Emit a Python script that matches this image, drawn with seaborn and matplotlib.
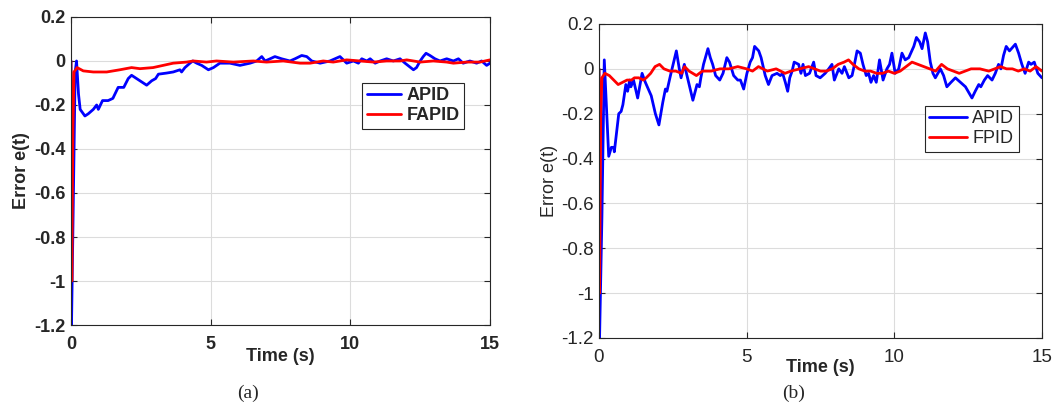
import numpy as np
import matplotlib
matplotlib.use("Agg")
import matplotlib.pyplot as plt
import seaborn as sns
from matplotlib.ticker import FuncFormatter

# ---- panel (a) data ----
t_a_apid = [0.0, 0.02, 0.1, 0.15, 0.2, 0.27, 0.33, 0.5, 0.62, 0.8, 0.92, 0.98, 1.13, 1.33, 1.5,
            1.69, 1.89, 2.05, 2.17, 2.35, 2.59, 2.71, 2.89, 3.03, 3.13, 3.42, 3.66, 3.9, 3.96, 4.08,
            4.26, 4.36, 4.5, 4.68, 4.92, 5.1, 5.33, 5.69, 6.05, 6.41, 6.65, 6.83, 6.95, 7.13, 7.3,
            7.54, 7.84, 8.02, 8.26, 8.44, 8.62, 8.92, 9.27, 9.63, 9.87, 10.11, 10.29, 10.41, 10.59,
            10.71, 10.89, 11.07, 11.3, 11.54, 11.78, 11.96, 12.26, 12.37, 12.5, 12.61, 12.71, 12.85,
            13.03, 13.21, 13.45, 13.69, 13.87, 14.04, 14.28, 14.52, 14.7, 14.88, 15.0]
e_a_apid = [0.0, -1.2, -0.5, -0.05, 0.0, -0.15, -0.22, -0.25, -0.24, -0.22, -0.2, -0.22, -0.18, -0.18, -0.17,
            -0.12, -0.12, -0.08, -0.065, -0.08, -0.1, -0.11, -0.09, -0.08, -0.06, -0.055, -0.05, -0.04, -0.05, -0.03,
            -0.01, 0.0, -0.01, -0.02, -0.04, -0.03, -0.01, -0.01, -0.02, -0.01, 0.0, 0.02, 0.0, 0.01, 0.02,
            0.01, 0.0, 0.01, 0.025, 0.02, 0.0, -0.01, 0.0, 0.02, -0.01, 0.0, -0.01, 0.01, 0.0,
            0.01, -0.01, 0.0, 0.01, 0.0, 0.01, -0.01, -0.04, -0.03, 0.0, 0.02, 0.035, 0.025,
            0.01, 0.0, 0.01, 0.0, 0.01, -0.01, 0.0, -0.01, 0.0, -0.02, -0.01]

t_a_fapid = [0.0, 0.03, 0.07, 0.11, 0.22, 0.44, 0.8, 1.28, 1.75, 2.17, 2.47, 2.94, 3.3, 3.66, 4.14,
             4.38, 4.85, 5.21, 5.81, 6.53, 7.0, 7.6, 8.2, 8.56, 9.03, 9.39, 9.87, 10.35, 10.83, 11.3,
             11.78, 12.02, 12.5, 12.97, 13.45, 13.69, 14.16, 14.64, 15.0]
e_a_fapid = [0.0, -1.0, -0.3, -0.05, -0.03, -0.045, -0.05, -0.05, -0.04, -0.03, -0.035, -0.03, -0.02, -0.01, -0.005,
             0.0, -0.005, 0.0, -0.005, 0.0, -0.005, 0.0, -0.01, -0.01, 0.0, -0.005, 0.005, 0.0, -0.005, 0.0,
             0.0, 0.005, -0.005, 0.0, -0.005, -0.01, -0.005, -0.005, 0.005]

# ---- panel (b) data ----
t_b_apid = [0.0, 0.02, 0.1, 0.18, 0.33, 0.42, 0.5, 0.52, 0.67, 0.75, 0.81, 0.91, 0.97, 1.04, 1.08,
            1.17, 1.31, 1.46, 1.57, 1.77, 1.91, 2.03, 2.16, 2.25, 2.3, 2.42, 2.51, 2.62, 2.72, 2.78,
            2.89, 3.07, 3.18, 3.32, 3.4, 3.45, 3.54, 3.69, 3.77, 3.85, 3.95, 4.09, 4.2, 4.33, 4.42,
            4.56, 4.7, 4.79, 4.9, 5.01, 5.12, 5.2, 5.27, 5.41, 5.49, 5.63, 5.74, 5.86, 6.03, 6.14,
            6.22, 6.31, 6.39, 6.46, 6.54, 6.61, 6.76, 6.84, 6.91, 6.99, 7.13, 7.27, 7.35, 7.49, 7.66,
            7.78, 7.89, 7.97, 8.12, 8.23, 8.31, 8.46, 8.57, 8.62, 8.74, 8.85, 8.94, 9.05, 9.13, 9.21,
            9.3, 9.39, 9.5, 9.62, 9.75, 9.84, 9.92, 10.03, 10.15, 10.26, 10.37, 10.49, 10.66, 10.75,
            10.86, 10.94, 11.05, 11.13, 11.22, 11.31, 11.39, 11.56, 11.67, 11.78, 11.92, 12.07, 12.24,
            12.41, 12.63, 12.74, 12.86, 12.93, 13.05, 13.16, 13.31, 13.42, 13.53, 13.61, 13.7, 13.79,
            13.9, 14.1, 14.21, 14.32, 14.43, 14.55, 14.63, 14.74, 14.86, 15.0]
e_b_apid = [0.0, -1.2, -0.66, 0.04, -0.39, -0.35, -0.35, -0.37, -0.2, -0.19, -0.16, -0.07, -0.1, -0.05, -0.08,
            -0.05, -0.13, -0.02, -0.06, -0.12, -0.2, -0.25, -0.15, -0.09, -0.1, -0.03, 0.02, 0.08, 0.0, -0.04,
            0.02, -0.08, -0.14, -0.07, -0.08, -0.04, 0.02, 0.09, 0.05, 0.02, -0.03, -0.05, -0.02, 0.05, 0.03,
            -0.03, -0.05, -0.05, -0.09, -0.02, 0.03, 0.05, 0.1, 0.08, 0.05, -0.03, -0.07, -0.03, -0.02, -0.03,
            -0.02, -0.06, -0.1, -0.04, -0.01, 0.03, 0.02, -0.02, 0.02, -0.03, -0.02, 0.03, -0.03, -0.04, -0.02,
            0.0, 0.02, -0.05, 0.0, -0.02, 0.01, -0.04, -0.03, 0.0, 0.08, 0.07, 0.02, -0.03, -0.02, -0.06,
            -0.03, -0.06, 0.04, -0.05, 0.0, 0.02, 0.07, -0.02, 0.0, 0.07, 0.04, 0.05, 0.1, 0.14,
            0.12, 0.09, 0.16, 0.12, 0.03, -0.02, -0.04, 0.0, -0.03, -0.08, -0.06, -0.04, -0.06,
            -0.08, -0.13, -0.1, -0.07, -0.08, -0.05, -0.03, -0.05, -0.02, 0.02, 0.0, 0.06, 0.1,
            0.08, 0.11, 0.07, 0.02, -0.02, 0.03, 0.02, 0.03, -0.02, -0.04]

t_b_fpid = [0.0, 0.02, 0.06, 0.1, 0.2, 0.35, 0.5, 0.65, 0.8, 0.95, 1.1, 1.2, 1.35, 1.5, 1.6,
            1.75, 1.9, 2.05, 2.2, 2.4, 2.6, 2.8, 2.9, 3.05, 3.3, 3.5, 3.8, 4.1, 4.4, 4.7,
            5.0, 5.2, 5.4, 5.7, 6.0, 6.3, 6.5, 6.8, 7.1, 7.3, 7.5, 7.7, 7.9, 8.1, 8.3,
            8.45, 8.6, 8.8, 9.0, 9.2, 9.4, 9.6, 9.8, 10.0, 10.2, 10.4, 10.6, 10.8, 11.0, 11.2,
            11.4, 11.6, 11.8, 12.0, 12.2, 12.4, 12.6, 12.9, 13.2, 13.4, 13.6, 13.8, 14.0, 14.2, 14.4,
            14.6, 14.8, 15.0]
e_b_fpid = [0.0, -1.0, -0.2, -0.04, -0.02, -0.03, -0.05, -0.07, -0.06, -0.05, -0.05, -0.04, -0.04, -0.05, -0.04,
            -0.02, 0.01, 0.02, 0.0, -0.01, -0.01, -0.02, 0.01, -0.01, -0.03, -0.01, -0.01, 0.0, 0.0, 0.01,
            0.0, -0.01, 0.01, -0.01, 0.0, -0.02, -0.01, 0.0, 0.01, 0.0, -0.01, -0.01, 0.0, 0.02, 0.03,
            0.04, 0.02, 0.0, -0.01, -0.01, -0.02, -0.02, -0.01, -0.02, -0.01, 0.01, 0.03, 0.02, 0.01, 0.0,
            -0.01, 0.02, 0.0, -0.01, -0.02, -0.01, 0.0, 0.0, -0.01, 0.0, 0.01, 0.0, 0.0, -0.01, 0.0,
            -0.01, 0.01, -0.01]

y_ticks = [0.2, 0, -0.2, -0.4, -0.6, -0.8, -1, -1.2]
x_ticks = [0, 5, 10, 15]

sns.set_style("ticks")
plt.rcParams['font.family'] = ['Liberation Sans', 'DejaVu Sans']
plt.rcParams['axes.unicode_minus'] = False

fig = plt.figure(figsize=(10.59, 4.08), dpi=100)
ax1 = fig.add_axes([0.067, 0.2034, 0.3957, 0.755])
ax2 = fig.add_axes([0.5656, 0.1716, 0.4183, 0.7696])

fmt = FuncFormatter(lambda v, p: "%g" % round(v, 2))


def style_axis(ax, weight, tick_size):
    ax.set_xlim(0, 15)
    ax.set_ylim(-1.2, 0.2)
    ax.set_xticks(x_ticks)
    ax.set_yticks(y_ticks)
    ax.yaxis.set_major_formatter(fmt)
    ax.xaxis.set_major_formatter(fmt)
    ax.grid(True, color="#dcdcdc", linewidth=0.8)
    ax.set_axisbelow(True)
    ax.tick_params(direction="in", top=True, right=True, length=4, width=0.8,
                   color="#262626", labelsize=tick_size)
    ax.tick_params(axis="x", pad=8)
    ax.tick_params(axis="y", pad=4)
    for lab in ax.get_xticklabels() + ax.get_yticklabels():
        lab.set_fontweight(weight)
    for sp in ax.spines.values():
        sp.set_visible(True)
        sp.set_color("#262626")
        sp.set_linewidth(0.8)


# (a)
sns.lineplot(x=t_a_apid, y=e_a_apid, ax=ax1, color="#0000ff", lw=2.0, label="APID",
             estimator=None, sort=False)
sns.lineplot(x=t_a_fapid, y=e_a_fapid, ax=ax1, color="#ff0000", lw=2.0, label="FAPID",
             estimator=None, sort=False)
style_axis(ax1, "bold", 13)
ax1.set_xlabel("Time (s)", fontsize=13, fontweight="bold", labelpad=-3.5)
ax1.set_ylabel("Error e(t)", fontsize=13, fontweight="bold", labelpad=3)
leg1 = ax1.legend(loc="upper right", bbox_to_anchor=(0.938, 0.786), borderaxespad=0,
                  prop={"weight": "bold", "size": 13}, fancybox=False, framealpha=1,
                  edgecolor="#262626", handlelength=1.9, handletextpad=0.3,
                  labelspacing=0.15, borderpad=0.25)
leg1.get_frame().set_linewidth(0.8)

# (b)
sns.lineplot(x=t_b_apid, y=e_b_apid, ax=ax2, color="#0000ff", lw=2.0, label="APID",
             estimator=None, sort=False)
sns.lineplot(x=t_b_fpid, y=e_b_fpid, ax=ax2, color="#ff0000", lw=2.0, label="FPID",
             estimator=None, sort=False)
style_axis(ax2, "normal", 13.5)
ax2.set_xlabel("Time (s)", fontsize=13, fontweight="bold", labelpad=-5)
ax2.set_ylabel("Error e(t)", fontsize=13, labelpad=2)
leg2 = ax2.legend(loc="upper right", bbox_to_anchor=(0.948, 0.739), borderaxespad=0,
                  prop={"size": 13}, fancybox=False, framealpha=1,
                  edgecolor="#262626", handlelength=2.1, handletextpad=0.3,
                  labelspacing=0.15, borderpad=0.25)
leg2.get_frame().set_linewidth(0.8)

fig.text(248 / 1059, 1 - 393 / 408, "(a)", ha="center", va="center",
         family=["Liberation Serif", "DejaVu Serif"], fontsize=14)
fig.text(794 / 1059, 1 - 393 / 408, "(b)", ha="center", va="center",
         family=["Liberation Serif", "DejaVu Serif"], fontsize=14)

fig.savefig("out.png", dpi=100)
